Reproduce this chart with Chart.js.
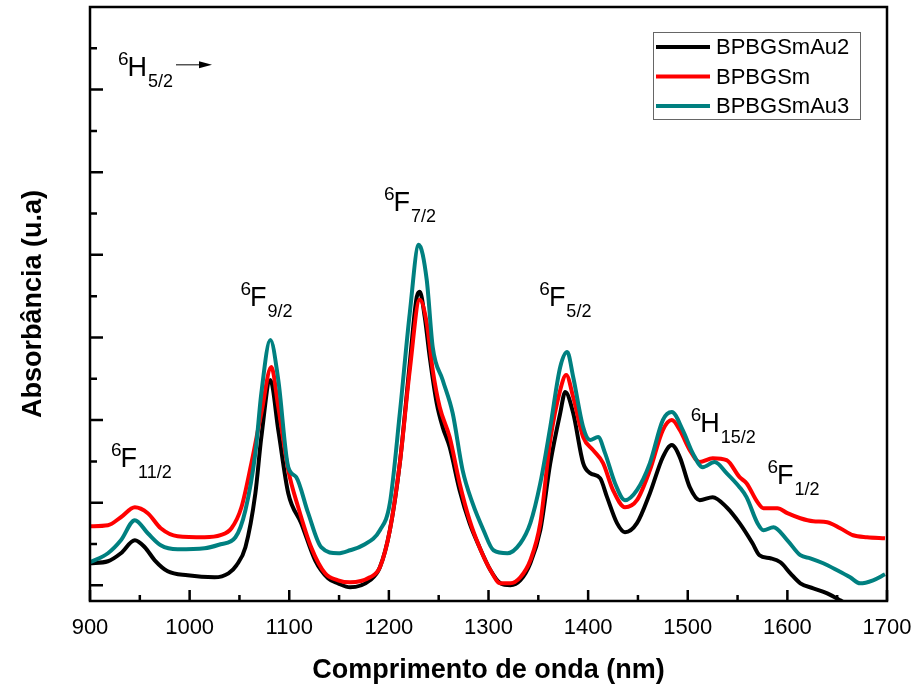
<!DOCTYPE html>
<html><head><meta charset="utf-8">
<script src="https://cdn.jsdelivr.net/npm/chart.js@4.4.1/dist/chart.umd.min.js"></script>
<style>html,body{margin:0;padding:0;background:#fff}#wrap{width:916px;height:691px}</style>
</head><body><div id="wrap"><canvas id="c" width="916" height="691"></canvas></div>
<script>
const seriesNames = ['BPBGSmAu2', 'BPBGSm', 'BPBGSmAu3'];
const seriesColors = ['#000000', '#ff0000', '#008080'];

const au2Nm  = [900,918,931,945,955,965,978,998,1025,1039,1047,1056,1066,1072,1081,1089,1099,1112,1126,1139,1149,1161,1181,1191,1201,1211,1221,1228,1231,1236,1241,1248,1254,1261,1271,1281,1291,1302,1312,1322,1332,1342,1352,1362,1372,1377,1385,1395,1402,1412,1419,1429,1437,1449,1462,1475,1484,1492,1502,1512,1525,1539,1552,1565,1572,1583,1593,1603,1613,1626,1640,1653,1663];
const au2Abs = [0.267,0.291,0.388,0.545,0.461,0.303,0.170,0.121,0.097,0.145,0.242,0.461,1.115,1.794,2.485,1.879,1.115,0.752,0.303,0.085,0.024,-0.024,0.061,0.218,0.667,1.479,2.691,3.491,3.552,3.248,2.764,2.206,1.915,1.673,1.152,0.752,0.461,0.182,0.024,0.000,0.061,0.267,0.667,1.479,2.085,2.339,2.085,1.479,1.358,1.297,1.067,0.752,0.642,0.752,1.115,1.552,1.697,1.552,1.188,1.030,1.067,0.945,0.752,0.509,0.364,0.327,0.279,0.145,0.024,-0.036,-0.097,-0.182,-0.255];

const smNm  = [900,918,931,945,958,971,988,1015,1031,1042,1052,1062,1072,1082,1089,1099,1109,1122,1136,1149,1161,1181,1191,1201,1211,1221,1231,1238,1244,1251,1261,1271,1281,1291,1302,1312,1322,1332,1342,1352,1362,1372,1378,1385,1395,1405,1415,1425,1437,1449,1462,1475,1484,1492,1502,1512,1525,1539,1552,1559,1570,1576,1590,1600,1613,1626,1640,1653,1666,1680,1698];
const smAbs = [0.715,0.727,0.824,0.945,0.873,0.691,0.594,0.582,0.606,0.691,0.945,1.479,2.085,2.642,2.158,1.394,0.945,0.461,0.145,0.061,0.036,0.097,0.218,0.667,1.479,2.606,3.455,3.176,2.606,2.158,1.794,1.236,0.788,0.461,0.182,0.024,0.024,0.097,0.303,0.752,1.758,2.364,2.545,2.279,1.794,1.636,1.479,1.152,0.945,1.030,1.394,1.879,2.000,1.879,1.636,1.491,1.539,1.515,1.309,1.236,1.006,0.933,0.933,0.873,0.812,0.776,0.764,0.691,0.606,0.582,0.570];

const au3Nm  = [900,918,931,945,958,971,988,1015,1031,1046,1056,1066,1072,1081,1089,1099,1107,1119,1132,1149,1161,1174,1191,1201,1211,1221,1230,1238,1244,1254,1264,1274,1284,1295,1305,1319,1332,1342,1352,1362,1372,1379,1385,1395,1402,1410,1417,1427,1437,1449,1462,1475,1484,1495,1505,1515,1527,1539,1552,1559,1570,1576,1586,1600,1613,1623,1636,1650,1663,1673,1686,1698];
const au3Abs = [0.279,0.388,0.545,0.788,0.630,0.485,0.436,0.448,0.497,0.582,0.909,1.600,2.327,2.970,2.485,1.430,1.309,0.873,0.461,0.388,0.424,0.485,0.667,0.994,2.085,3.297,4.121,3.697,2.885,2.485,2.085,1.394,0.994,0.667,0.424,0.388,0.509,0.752,1.236,1.915,2.642,2.824,2.521,1.915,1.758,1.794,1.600,1.236,1.030,1.152,1.479,2.000,2.097,1.879,1.600,1.430,1.491,1.358,1.188,1.067,0.752,0.667,0.703,0.545,0.364,0.327,0.267,0.182,0.097,0.024,0.061,0.133];

const xTickValues = [900,1000,1100,1200,1300,1400,1500,1600,1700];
const xTickLabels = ['900','1000','1100','1200','1300','1400','1500','1600','1700'];
const xMinorValues = [950,1050,1150,1250,1350,1450,1550,1650];
const yMajorValues = [0,1,2,3,4,5,6];
const yMinorValues = [0.5,1.5,2.5,3.5,4.5,5.5,6.5];

const xTitle = 'Comprimento de onda (nm)';
const yTitle = 'Absorbância (u.a)';

// spectroscopic band labels: superscript, letter, subscript, anchor wavelength / absorbance
const bandSup = ['6','6','6','6','6','6','6'];
const bandMain = ['H','F','F','F','F','H','F'];
const bandSub = ['5/2','11/2','9/2','7/2','5/2','15/2','1/2'];
const bandNm = [928,921,1051,1195,1351,1503,1580];
const bandAbs = [6.17,1.43,3.38,4.53,3.38,1.86,1.23];

const FONT = "'Liberation Sans', Arial, Helvetica, sans-serif";

function pairs(xs, ys){ return xs.map((x,i)=>({x:x, y:ys[i]})); }

const decor = {
  id: 'decor',
  afterDraw(chart){
    const ctx = chart.ctx, a = chart.chartArea;
    const xs = chart.scales.x, ys = chart.scales.y;
    ctx.save();
    ctx.strokeStyle = '#000';
    ctx.lineWidth = 2.5;
    ctx.beginPath();
    xTickValues.forEach(v=>{ const p = xs.getPixelForValue(v); ctx.moveTo(p, a.bottom); ctx.lineTo(p, a.bottom-11); });
    xMinorValues.forEach(v=>{ const p = xs.getPixelForValue(v); ctx.moveTo(p, a.bottom); ctx.lineTo(p, a.bottom-6); });
    yMajorValues.forEach(v=>{ const p = ys.getPixelForValue(v); ctx.moveTo(a.left, p); ctx.lineTo(a.left+13, p); });
    yMinorValues.forEach(v=>{ const p = ys.getPixelForValue(v); ctx.moveTo(a.left, p); ctx.lineTo(a.left+7, p); });
    ctx.stroke();
    ctx.lineWidth = 2.5;
    ctx.strokeRect(a.left, a.top, a.right-a.left, a.bottom-a.top);

    // legend
    const lx = 653, ly = 32, lw = 207, lh = 87;
    ctx.fillStyle = '#fff';
    ctx.fillRect(lx, ly, lw, lh);
    ctx.lineWidth = 1;
    ctx.strokeStyle = '#666';
    ctx.strokeRect(lx+0.5, ly+0.5, lw, lh);
    ctx.font = '22px ' + FONT;
    ctx.textBaseline = 'middle';
    ctx.textAlign = 'left';
    seriesNames.forEach((n,i)=>{
      const y = 47 + i*29.5;
      ctx.strokeStyle = seriesColors[i];
      ctx.lineWidth = 4;
      ctx.beginPath(); ctx.moveTo(656, y); ctx.lineTo(710, y); ctx.stroke();
      ctx.fillStyle = '#000';
      ctx.fillText(n, 716, y+1);
    });

    // band labels
    ctx.fillStyle = '#000';
    ctx.textBaseline = 'alphabetic';
    bandMain.forEach((m,i)=>{
      let x = xs.getPixelForValue(bandNm[i]);
      const base = ys.getPixelForValue(bandAbs[i]);
      ctx.font = '19px ' + FONT;
      ctx.fillText(bandSup[i], x, base-11);
      x += ctx.measureText(bandSup[i]).width - 1;
      ctx.font = '27px ' + FONT;
      ctx.fillText(m, x, base);
      x += ctx.measureText(m).width + 1;
      ctx.font = '18px ' + FONT;
      ctx.fillText(bandSub[i], x, base+11);
    });
    const ay = ys.getPixelForValue(6.3);
    ctx.strokeStyle = '#000'; ctx.lineWidth = 1;
    ctx.beginPath(); ctx.moveTo(176, ay); ctx.lineTo(200, ay); ctx.stroke();
    ctx.beginPath(); ctx.moveTo(212, ay); ctx.lineTo(199, ay-3.5); ctx.lineTo(199, ay+3.5); ctx.closePath(); ctx.fill();
    ctx.restore();
  }
};

const datasets = [
  {label: seriesNames[0], data: pairs(au2Nm, au2Abs), borderColor: seriesColors[0], order: 3},
  {label: seriesNames[1], data: pairs(smNm, smAbs), borderColor: seriesColors[1], order: 2},
  {label: seriesNames[2], data: pairs(au3Nm, au3Abs), borderColor: seriesColors[2], order: 1}
].map(d=>Object.assign(d, {borderWidth: 4, pointRadius: 0, fill: false, cubicInterpolationMode: 'monotone'}));

new Chart(document.getElementById('c'), {
  type: 'line',
  data: {datasets: datasets},
  options: {
    responsive: false,
    animation: false,
    layout: {padding: {top: 7, right: 29, left: 0, bottom: 0}},
    plugins: {legend: {display: false}, tooltip: {enabled: false}},
    scales: {
      x: {
        type: 'linear', min: 900, max: 1700,
        grid: {display: false, drawTicks: false},
        border: {display: false},
        afterFit(s){ s.height = 90; s.paddingLeft = 0; s.paddingRight = 0; },
        afterBuildTicks(s){ s.ticks = xTickValues.map(v=>({value: v})); },
        ticks: {
          color: '#000', padding: 14,
          font: {family: FONT, size: 22},
          maxRotation: 0, autoSkip: false,
          callback: (v)=>{ const i = xTickValues.indexOf(v); return i >= 0 ? xTickLabels[i] : ''; }
        },
        title: {display: true, text: xTitle, color: '#000', font: {family: FONT, size: 27, weight: 'bold'}, padding: {top: 0, bottom: 4}}
      },
      y: {
        type: 'linear', min: -0.19, max: 7.0,
        grid: {display: false, drawTicks: false},
        border: {display: false},
        afterFit(s){ s.width = 90; s.paddingTop = 0; s.paddingBottom = 0; },
        ticks: {display: false},
        title: {display: true, text: yTitle, color: '#000', font: {family: FONT, size: 27, weight: 'bold'}, padding: {top: 17, bottom: 0}}
      }
    }
  },
  plugins: [decor]
});
</script></body></html>
